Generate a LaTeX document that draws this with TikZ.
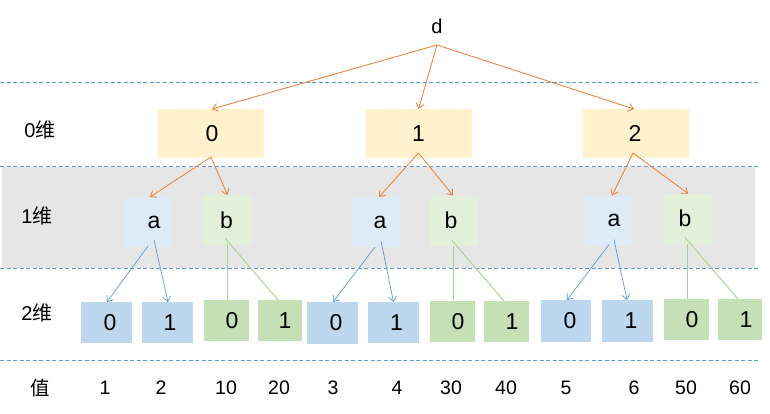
\documentclass[tikz,border=0pt]{standalone}
\usepackage{fontspec}
\setmainfont{Liberation Sans}
\newfontfamily\cjk{Noto Sans CJK SC}
\usetikzlibrary{arrows.meta}
\definecolor{orangeA}{HTML}{ED7D31}
\definecolor{topfill}{HTML}{FFF2CC}
\definecolor{afill}{HTML}{DEEBF7}
\definecolor{bfill}{HTML}{E2F0D9}
\definecolor{bluefill}{HTML}{BDD7EE}
\definecolor{greenfill}{HTML}{C5E0B4}
\definecolor{band}{HTML}{E7E6E6}
\definecolor{dashblue}{HTML}{5B9BD5}
\definecolor{greenline}{HTML}{A9D18E}
% shift the text of a box right (#1>0) or left (#1<0) by #1 points
\newcommand\rsh[2]{\hspace*{#1pt}\hspace*{#1pt}#2}
\newcommand\lsh[2]{#2\hspace*{#1pt}\hspace*{#1pt}}
\tikzset{
  box/.style={inner sep=0pt, outer sep=0pt, draw=none, font=\fontsize{23}{23}\selectfont},
  topbox/.style={box, fill=topfill, minimum width=106pt, minimum height=49pt},
  abox/.style={box, fill=afill, minimum width=47pt, minimum height=50pt},
  bbox/.style={box, fill=bfill, minimum width=48pt, minimum height=50pt},
  bluebox/.style={box, fill=bluefill, minimum width=51pt, minimum height=41pt},
  greenbox/.style={box, fill=greenfill, minimum width=45pt, minimum height=41pt},
  lab/.style={inner sep=0pt, font=\fontsize{20}{20}\selectfont},
  val/.style={inner sep=0pt, font=\fontsize{19.5}{19.5}\selectfont},
  sep/.style={dashblue, line width=0.9pt, dash pattern=on 4pt off 2.5pt},
  oarrow/.style={orangeA, line width=0.8pt, -{Straight Barb[length=5pt,width=8pt]}},
  barrow/.style={dashblue, line width=0.7pt, -{Straight Barb[length=5pt,width=8pt]}},
  gline/.style={greenline, line width=0.9pt},
}
\begin{document}
\begin{tikzpicture}[x=1pt,y=-1pt]
\useasboundingbox (0,0) rectangle (770,414);
\fill[band] (2,167) rectangle (755,268);
\draw[sep] (0,82) -- (758,82);
\draw[sep] (0,166) -- (758,166);
\draw[sep] (0,268) -- (758,268);
\draw[sep] (0,360) -- (758,360);

\node[lab] (d) at (437,26) {d};
\coordinate (dbot) at (437,45);

\node[lab] (l0) at (40,130) {0{\cjk 维}};
\node[lab] (l1) at (37,216) {1{\cjk 维}};
\node[lab] (l2) at (37,313) {2{\cjk 维}};
\node[val] (lv) at (40,388) {\cjk 值};

\node[topbox] (t0) at (211,133.5) {\rsh{1}{0}};
\node[topbox] (t1) at (418.5,133.5) {1};
\node[topbox] (t2) at (636,133.5) {\lsh{1}{2}};

\node[abox] (a1) at (148.5,222) {\rsh{5.5}{a}};
\node[bbox] (b1) at (227.5,220) {\lsh{1}{b}};
\node[abox] (a2) at (376,222) {\rsh{4}{a}};
\node[bbox] (b2) at (454,220.5) {\lsh{3}{b}};
\node[abox] (a3) at (608.5,220.5) {\rsh{5.5}{a}};
\node[bbox] (b3) at (688,218.5) {\lsh{3}{b}};

\node[bluebox] (B1) at (106,322.5) {\rsh{4}{0}};
\node[bluebox] (B2) at (167.5,322.5) {\rsh{2.5}{1}};
\node[greenbox] (G1) at (226.5,320.5) {\rsh{5.5}{0}};
\node[greenbox, minimum width=44pt] (G2) at (280,320.5) {\rsh{5}{1}};
\node[bluebox, minimum height=42pt] (B3) at (332.5,323) {\rsh{3.5}{0}};
\node[bluebox] (B4) at (393.5,322.5) {\rsh{3}{1}};
\node[greenbox] (G3) at (452.5,321.5) {\rsh{5.5}{0}};
\node[greenbox] (G4) at (506.5,321.5) {\rsh{5.5}{1}};
\node[bluebox, minimum width=50pt, minimum height=42pt] (B5) at (566,321) {\rsh{4}{0}};
\node[bluebox, minimum height=42pt] (B6) at (627.5,321) {\rsh{3.5}{1}};
\node[greenbox] (G5) at (686.5,319.5) {\rsh{5.5}{0}};
\node[greenbox, minimum width=44pt] (G6) at (740,319.5) {\rsh{6}{1}};

% values
\node[val] (v1) at (105,388) {1};
\node[val] (v2) at (161,388) {2};
\node[val] (v3) at (226,388) {10};
\node[val] (v4) at (279,388) {20};
\node[val] (v5) at (333,388) {3};
\node[val] (v6) at (397,388) {4};
\node[val] (v7) at (451,388) {30};
\node[val] (v8) at (506,388) {40};
\node[val] (v9) at (566,388) {5};
\node[val] (v10) at (634,388) {6};
\node[val] (v11) at (686,388) {50};
\node[val] (v12) at (740,388) {60};

% d arrows
\draw[oarrow] (dbot) -- ([xshift=1pt]t0.north);
\draw[oarrow] (dbot) -- (t1.north);
\draw[oarrow] (dbot) -- ([xshift=-2pt]t2.north);

% top -> a/b
\draw[oarrow] ([yshift=1pt]t0.south) -- ([xshift=1.5pt]a1.north);
\draw[oarrow] ([yshift=1pt]t0.south) -- (b1.north);
\draw[oarrow] ([yshift=5pt]t1.south) -- ([xshift=3pt]a2.north);
\draw[oarrow] ([yshift=5pt]t1.south) -- ([xshift=-1pt]b2.north);
\draw[oarrow] ([xshift=-3pt,yshift=5pt]t2.south) -- ([xshift=3.5pt]a3.north);
\draw[oarrow] ([xshift=-3pt,yshift=5pt]t2.south) -- (b3.north);

% a -> blue boxes
\draw[barrow] ([xshift=-0.5pt,yshift=1pt]a1.south) -- ([xshift=1pt]B1.north);
\draw[barrow] ([xshift=5.5pt,yshift=7pt]a1.south) -- ([xshift=0.5pt]B2.north);
\draw[barrow] ([xshift=-1pt]a2.south) -- ([xshift=0.5pt]B3.north);
\draw[barrow] ([xshift=5pt,yshift=6pt]a2.south) -- (B4.north);
\draw[barrow] ([xshift=0.5pt,yshift=1pt]a3.south) -- ([xshift=1pt]B5.north);
\draw[barrow] ([xshift=5.5pt,yshift=6pt]a3.south) -- ([xshift=-0.5pt]B6.north);

% b -> green boxes
\draw[gline] ([xshift=-0.5pt,yshift=1pt]b1.south) -- ([xshift=0.5pt]G1.north);
\draw[gline] ([xshift=-2.5pt,yshift=7pt]b1.south) -- ([xshift=-2pt]G2.north);
\draw[gline] ([xshift=-1pt]b2.south) -- ([xshift=0.5pt]G3.north);
\draw[gline] ([xshift=-2pt,yshift=5pt]b2.south) -- ([xshift=-2.5pt]G4.north);
\draw[gline] ([xshift=-1pt]b3.south) -- ([xshift=0.5pt]G5.north);
\draw[gline] ([xshift=-3pt,yshift=6pt]b3.south) -- ([xshift=-2pt]G6.north);
\end{tikzpicture}
\end{document}
